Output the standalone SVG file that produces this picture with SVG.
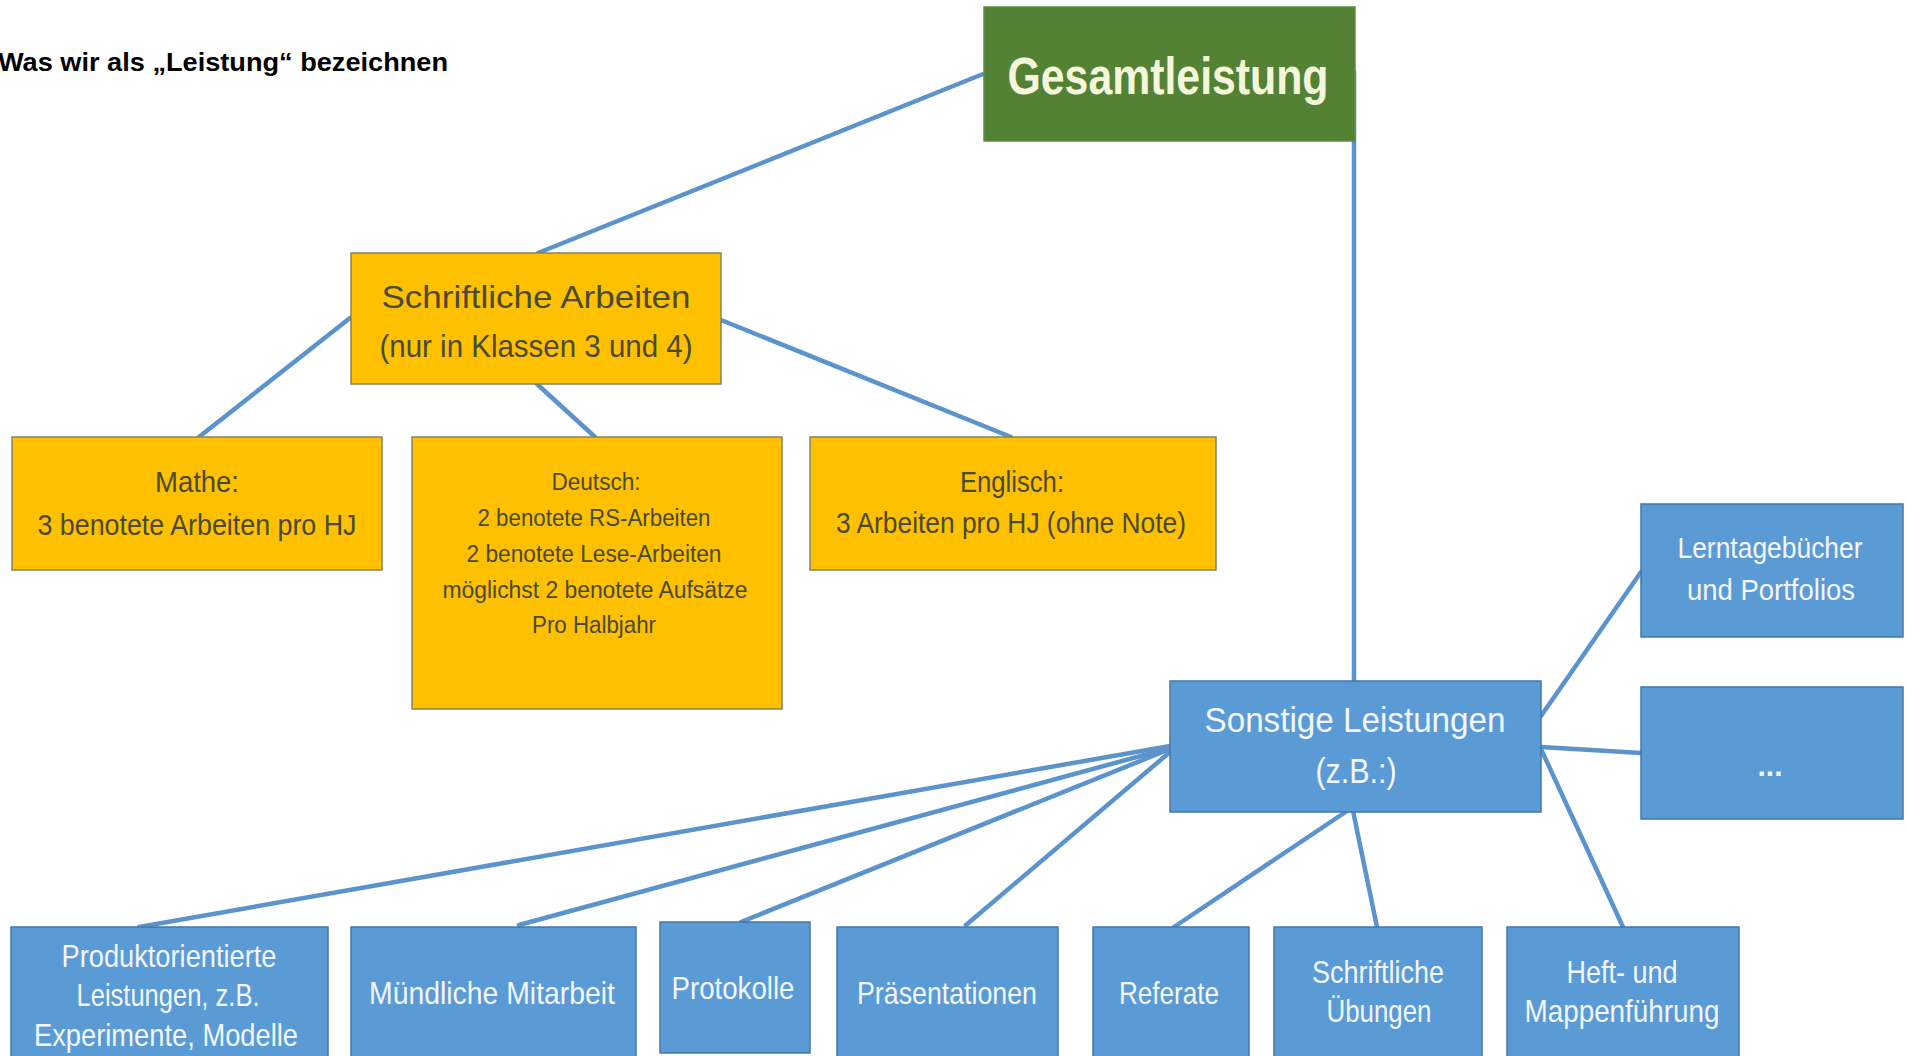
<svg xmlns="http://www.w3.org/2000/svg" width="1907" height="1056" viewBox="0 0 1907 1056">
<style>
.bg{fill:#ffffff}
.con line{stroke:#5b93cc;stroke-width:4.5;stroke-linecap:round}
.green{fill:#548235;stroke:#5f8a45;stroke-width:1.5}
.orange{fill:#ffc000;stroke:#85845a;stroke-width:1.5}
.blue{fill:#5b9bd5;stroke:#4677a8;stroke-width:1.5}
text{font-family:"Liberation Sans",Arial,sans-serif;text-anchor:middle}
.tg{fill:#f4f7dc;font-weight:bold;font-size:52px}
.to{fill:#4a4a36}
.tb{fill:#f3f6fb}
.title{fill:#000;font-weight:bold;font-size:25px;text-anchor:start}
</style>
<rect class="bg" x="0" y="0" width="1907" height="1056"/>
<text class="title" x="-2" y="71" textLength="450" lengthAdjust="spacingAndGlyphs">Was wir als „Leistung“ bezeichnen</text>
<g id="connectors" class="con">
<line x1="983" y1="74" x2="538" y2="253"/>
<line x1="1354" y1="72" x2="1354" y2="681"/>
<line x1="350" y1="318" x2="199" y2="437"/>
<line x1="537" y1="384" x2="595" y2="437"/>
<line x1="721" y1="320" x2="1011" y2="437"/>
<line x1="1541" y1="716" x2="1641" y2="572"/>
<line x1="1541" y1="747" x2="1641" y2="753"/>
<line x1="1541" y1="749" x2="1623" y2="927"/>
<line x1="1353" y1="811" x2="1377" y2="927"/>
<line x1="1347" y1="811" x2="1174" y2="927"/>
<line x1="1170" y1="752" x2="966" y2="925"/>
<line x1="1170" y1="749" x2="741" y2="922"/>
<line x1="1170" y1="748" x2="519" y2="925"/>
<line x1="1170" y1="746" x2="139" y2="927"/>
</g>
<g id="gesamt">
<rect class="green" x="984" y="7" width="371" height="134"/>
<text class="tg" x="1168" y="94" textLength="321" lengthAdjust="spacingAndGlyphs">Gesamtleistung</text>
</g>
<g id="schriftlich">
<rect class="orange" x="351" y="253" width="370" height="131"/>
<text class="to" x="536" y="308" font-size="32" textLength="309" lengthAdjust="spacingAndGlyphs">Schriftliche Arbeiten</text>
<text class="to" x="536" y="357" font-size="32" textLength="313" lengthAdjust="spacingAndGlyphs">(nur in Klassen 3 und 4)</text>
</g>
<g id="mathe">
<rect class="orange" x="12" y="437" width="370" height="133"/>
<text class="to" x="197" y="492" font-size="29" textLength="84" lengthAdjust="spacingAndGlyphs">Mathe:</text>
<text class="to" x="197" y="535" font-size="29" textLength="319" lengthAdjust="spacingAndGlyphs">3 benotete Arbeiten pro HJ</text>
</g>
<g id="deutsch">
<rect class="orange" x="412" y="437" width="370" height="272"/>
<text class="to" x="596" y="490" font-size="23" textLength="89" lengthAdjust="spacingAndGlyphs">Deutsch:</text>
<text class="to" x="594" y="526" font-size="23" textLength="233" lengthAdjust="spacingAndGlyphs">2 benotete RS-Arbeiten</text>
<text class="to" x="594" y="562" font-size="23" textLength="255" lengthAdjust="spacingAndGlyphs">2 benotete Lese-Arbeiten</text>
<text class="to" x="595" y="598" font-size="23" textLength="305" lengthAdjust="spacingAndGlyphs">möglichst 2 benotete Aufsätze</text>
<text class="to" x="594" y="633" font-size="23" textLength="124" lengthAdjust="spacingAndGlyphs">Pro Halbjahr</text>
</g>
<g id="englisch">
<rect class="orange" x="810" y="437" width="406" height="133"/>
<text class="to" x="1012" y="492" font-size="29" textLength="104" lengthAdjust="spacingAndGlyphs">Englisch:</text>
<text class="to" x="1011" y="533" font-size="29" textLength="350" lengthAdjust="spacingAndGlyphs">3 Arbeiten pro HJ (ohne Note)</text>
</g>
<g id="sonstige">
<rect class="blue" x="1170" y="681" width="371" height="131"/>
<text class="tb" x="1355" y="732" font-size="35" textLength="301" lengthAdjust="spacingAndGlyphs">Sonstige Leistungen</text>
<text class="tb" x="1356" y="783" font-size="35" textLength="81" lengthAdjust="spacingAndGlyphs">(z.B.:)</text>
</g>
<g id="lerntagebuecher">
<rect class="blue" x="1641" y="504" width="262" height="133"/>
<text class="tb" x="1770" y="558" font-size="29" textLength="185" lengthAdjust="spacingAndGlyphs">Lerntagebücher</text>
<text class="tb" x="1771" y="600" font-size="29" textLength="168" lengthAdjust="spacingAndGlyphs">und Portfolios</text>
</g>
<g id="etc">
<rect class="blue" x="1641" y="687" width="262" height="132"/>
<text class="tb" x="1770" y="776" font-size="30" font-weight="bold">...</text>
</g>
<g id="produkt">
<rect class="blue" x="11" y="927" width="317" height="135"/>
<text class="tb" x="169" y="967" font-size="32" textLength="215" lengthAdjust="spacingAndGlyphs">Produktorientierte</text>
<text class="tb" x="168" y="1006" font-size="32" textLength="183" lengthAdjust="spacingAndGlyphs">Leistungen, z.B.</text>
<text class="tb" x="166" y="1046" font-size="32" textLength="264" lengthAdjust="spacingAndGlyphs">Experimente, Modelle</text>
</g>
<g id="muendlich">
<rect class="blue" x="351" y="927" width="285" height="135"/>
<text class="tb" x="492" y="1004" font-size="32" textLength="246" lengthAdjust="spacingAndGlyphs">Mündliche Mitarbeit</text>
</g>
<g id="protokolle">
<rect class="blue" x="660" y="922" width="150" height="131"/>
<text class="tb" x="733" y="999" font-size="32" textLength="123" lengthAdjust="spacingAndGlyphs">Protokolle</text>
</g>
<g id="praesentationen">
<rect class="blue" x="837" y="927" width="221" height="135"/>
<text class="tb" x="947" y="1004" font-size="32" textLength="180" lengthAdjust="spacingAndGlyphs">Präsentationen</text>
</g>
<g id="referate">
<rect class="blue" x="1093" y="927" width="156" height="135"/>
<text class="tb" x="1169" y="1004" font-size="32" textLength="100" lengthAdjust="spacingAndGlyphs">Referate</text>
</g>
<g id="uebungen">
<rect class="blue" x="1274" y="927" width="208" height="135"/>
<text class="tb" x="1378" y="983" font-size="32" textLength="132" lengthAdjust="spacingAndGlyphs">Schriftliche</text>
<text class="tb" x="1379" y="1022" font-size="32" textLength="105" lengthAdjust="spacingAndGlyphs">Übungen</text>
</g>
<g id="heft">
<rect class="blue" x="1507" y="927" width="232" height="135"/>
<text class="tb" x="1622" y="983" font-size="32" textLength="111" lengthAdjust="spacingAndGlyphs">Heft- und</text>
<text class="tb" x="1622" y="1022" font-size="32" textLength="195" lengthAdjust="spacingAndGlyphs">Mappenführung</text>
</g>
</svg>
